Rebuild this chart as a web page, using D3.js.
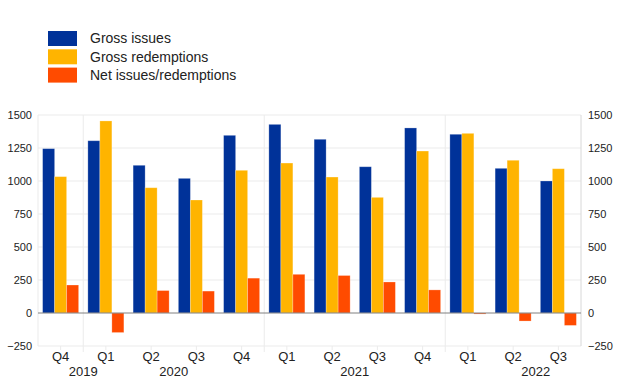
<!DOCTYPE html>
<html>
<head>
<meta charset="utf-8">
<script src="https://cdn.jsdelivr.net/npm/d3@7"></script>
<style>
  html, body { margin: 0; padding: 0; background: #fff; }
  svg { display: block; font-family: "Liberation Sans", Arial, sans-serif; }
</style>
</head>
<body>
<svg id="chart" width="620" height="387"></svg>
<script>
// ---- Data ----
const quarters = ["Q4","Q1","Q2","Q3","Q4","Q1","Q2","Q3","Q4","Q1","Q2","Q3"];
const years    = ["2019","2020","2020","2020","2020","2021","2021","2021","2021","2022","2022","2022"];
const seriesNames = ["Gross issues", "Gross redemptions", "Net issues/redemptions"];
const grossIssues      = [1245, 1305, 1119, 1020, 1346, 1429, 1316, 1108, 1402, 1354, 1096, 1000];
const grossRedemptions = [1033, 1455,  949,  856, 1081, 1136, 1030,  876, 1227, 1361, 1157, 1093];
const netIssues        = [ 212, -148,  170,  166,  264,  293,  284,  235,  175,   -8,  -61,  -94];
const yTicks = [-250, 0, 250, 500, 750, 1000, 1250, 1500];
const colors = ["#003299", "#FFB400", "#FF4B00"];

// ---- Layout ----
const svg = d3.select("#chart");
const pLeft = 38, pRight = 581, pTop = 115, pBottom = 346;
const idx = d3.range(quarters.length);
const seriesValues = [grossIssues, grossRedemptions, netIssues];

const x = d3.scaleBand().domain(idx).range([pLeft, pRight]).paddingInner(0).paddingOuter(0);
const x1 = d3.scaleBand().domain(d3.range(3)).range([0, x.bandwidth()]).paddingInner(0).paddingOuter(0.385);
const y = d3.scaleLinear().domain([-250, 1500]).range([pBottom, pTop]);

// gridlines
svg.append("g").selectAll("line").data(yTicks.filter(t => t !== 0)).join("line")
  .attr("x1", pLeft).attr("x2", pRight)
  .attr("y1", d => y(d)).attr("y2", d => y(d))
  .attr("stroke", "#ebebeb").attr("stroke-width", 1);

// plot borders (left / right)
svg.append("line").attr("x1", pLeft).attr("x2", pLeft).attr("y1", pTop).attr("y2", pBottom)
  .attr("stroke", "#ebebeb");
svg.append("line").attr("x1", pRight).attr("x2", pRight).attr("y1", pTop).attr("y2", pBottom)
  .attr("stroke", "#d8d8d8");

// year separators
const sepIdx = idx.filter(i => i > 0 && years[i] !== years[i - 1]);
svg.append("g").selectAll("line").data(sepIdx).join("line")
  .attr("x1", d => x(d)).attr("x2", d => x(d))
  .attr("y1", pTop).attr("y2", pBottom + 6)
  .attr("stroke", "#ebebeb").attr("stroke-width", 1);

// category ticks
svg.append("g").selectAll("line").data(idx).join("line")
  .attr("x1", d => x(d) + x.bandwidth() / 2).attr("x2", d => x(d) + x.bandwidth() / 2)
  .attr("y1", pBottom).attr("y2", pBottom + 4)
  .attr("stroke", "#ebebeb");

// bars
const groups = svg.append("g").selectAll("g").data(idx).join("g")
  .attr("transform", d => `translate(${x(d)},0)`);
groups.selectAll("rect")
  .data(i => seriesValues.map((vals, s) => ({ s, v: vals[i] })))
  .join("rect")
  .attr("x", d => x1(d.s))
  .attr("width", x1.bandwidth())
  .attr("y", d => y(Math.max(0, d.v)))
  .attr("height", d => Math.abs(y(d.v) - y(0)))
  .attr("fill", d => colors[d.s])
  .attr("stroke", "rgba(255,255,255,0.3)")
  .attr("stroke-width", 0.8);

// zero line
svg.append("line").attr("x1", pLeft).attr("x2", pRight).attr("y1", y(0)).attr("y2", y(0))
  .attr("stroke", "#808080").attr("stroke-width", 1);

// y axes labels
const fmt = d3.format("d");
const leftAxis = d3.axisLeft(y).tickValues(yTicks).tickFormat(fmt).tickSize(0).tickPadding(6);
const gl = svg.append("g").attr("transform", `translate(${pLeft},0)`).call(leftAxis);
const rightAxis = d3.axisRight(y).tickValues(yTicks).tickFormat(fmt).tickSize(0).tickPadding(7);
const gr = svg.append("g").attr("transform", `translate(${pRight},0)`).call(rightAxis);
[gl, gr].forEach(g => {
  g.select(".domain").remove();
  g.selectAll("text").attr("font-size", 11).attr("fill", "#222")
    .attr("font-family", "'Liberation Sans', Arial, sans-serif");
});

// x axis labels (quarters)
const xAxis = d3.axisBottom(x).tickFormat(i => quarters[i]).tickSize(0).tickPadding(6);
const gx = svg.append("g").attr("transform", `translate(0,${pBottom})`).call(xAxis);
gx.select(".domain").remove();
gx.selectAll("text").attr("font-size", 13).attr("fill", "#222")
  .attr("font-family", "'Liberation Sans', Arial, sans-serif");

// year labels: centred on the middle of the calendar year, clamped to the first boundary
const uniqYears = Array.from(new Set(years));
const yearPos = uniqYears.map(yr => {
  const first = years.indexOf(yr);
  const qNum = +quarters[first].slice(1);
  const startBand = first - (qNum - 1);
  let mid = startBand + 2;
  if (mid < sepIdx[0]) mid = sepIdx[0];
  return { yr, pos: pLeft + mid * x.step() };
});
svg.append("g").selectAll("text").data(yearPos).join("text")
  .attr("x", d => d.pos).attr("y", 375.8)
  .attr("text-anchor", "middle")
  .attr("font-size", 13).attr("fill", "#222")
  .text(d => d.yr);

// legend
const legend = svg.append("g").selectAll("g").data(seriesNames).join("g")
  .attr("transform", (d, i) => `translate(48,${31 + i * 18.3})`);
legend.append("rect").attr("width", 29).attr("height", 15)
  .attr("fill", (d, i) => colors[i]);
legend.append("text").attr("x", 42).attr("y", 7.5).attr("dy", "0.35em")
  .attr("font-size", 14).attr("fill", "#222").text(d => d);
</script>
</body>
</html>
